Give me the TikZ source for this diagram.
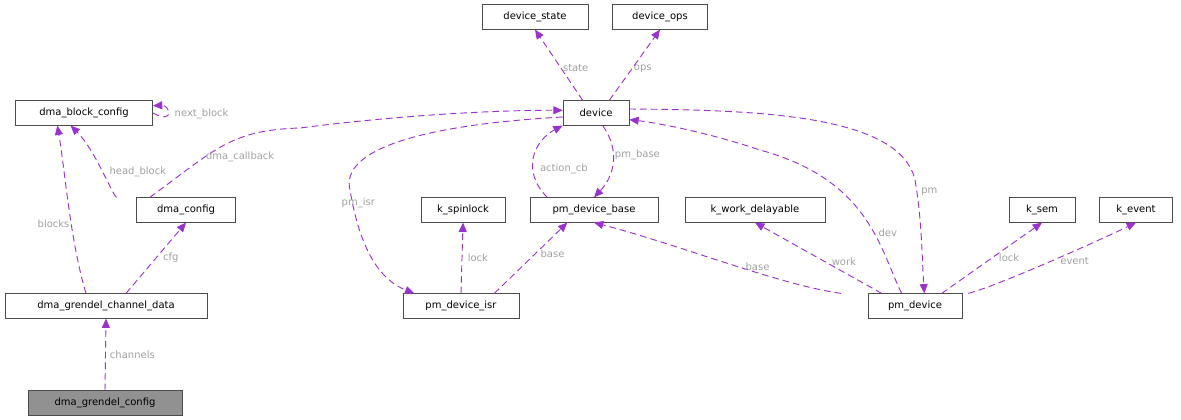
\documentclass[tikz,border=0pt]{standalone}
\usepackage{fontspec}
\setmainfont{DejaVu Sans}
\usetikzlibrary{arrows.meta}
\definecolor{edge}{RGB}{154,50,205}
\definecolor{lbl}{RGB}{160,160,160}
\begin{document}
\begin{tikzpicture}[x=0.75pt,y=-0.75pt,
  box/.style={draw=black!70,fill=white,minimum height=18.5pt,inner sep=0pt,font=\fontsize{7.5}{9}\selectfont,anchor=center},
  e/.style={draw=edge,dashed,dash pattern=on 5pt off 3pt,-{Triangle[length=7pt,width=6pt]},line width=0.7pt},
  l/.style={text=lbl,font=\fontsize{7.5}{9}\selectfont,inner sep=1pt}]
\useasboundingbox (0,0) rectangle (1181,420);
\node[box,minimum width=79.5pt] (ds) at (535,17) {device\_state};
\node[box,minimum width=71pt] (dops) at (660,17) {device\_ops};
\node[box,minimum width=103pt] (dbc) at (84,113) {dma\_block\_config};
\node[box,minimum width=49.5pt] (dev) at (596,113) {device};
\node[box,minimum width=74pt] (dc) at (186,210) {dma\_config};
\node[box,minimum width=63pt] (ks) at (463,210) {k\_spinlock};
\node[box,minimum width=96pt] (pdb) at (594,210) {pm\_device\_base};
\node[box,minimum width=105pt] (kw) at (755,210) {k\_work\_delayable};
\node[box,minimum width=49.5pt] (sem) at (1042,210) {k\_sem};
\node[box,minimum width=55pt] (kev) at (1136,210) {k\_event};
\node[box,minimum width=151.5pt] (gcd) at (106,306) {dma\_grendel\_channel\_data};
\node[box,minimum width=87pt] (isr) at (461,306) {pm\_device\_isr};
\node[box,minimum width=70.5pt] (pmd) at (915,306) {pm\_device};
\node[box,minimum width=115.5pt,fill=black!43] (gc) at (105,403) {dma\_grendel\_config};

\draw[e] (dev.north west)++(20,0) -- node[l,right,pos=0.45]{state} (ds.south);
\draw[e] (dev.north east)++(-20,0) -- node[l,right,pos=0.45]{ops} (dops.south);
\draw[e] (dbc.east) .. controls (175,125) and (170,105) .. node[l,right,pos=0.5,xshift=4pt]{next\_block} ([yshift=-4]dbc.north east);
\draw[e] ([xshift=-15]dc.north west) .. controls (110,190) and (95,150) .. node[l,right,pos=0.45,xshift=4pt]{head\_block} ([xshift=-10]dbc.south);
\draw[e] ([xshift=10]dc.north west) .. controls (215,150) and (230,130) .. node[l,pos=0.35,right]{dma\_callback} (300,128) .. controls (400,115) and (500,110) .. ([yshift=2]dev.west);
\draw[e] ([xshift=-15]gcd.north) .. controls (70,240) and (65,170) .. node[l,left,pos=0.4]{blocks} ([xshift=-20]dbc.south);
\draw[e] ([xshift=15]gcd.north) -- node[l,right,pos=0.5,xshift=4pt]{cfg} (dc.south);
\draw[e] (gc.north) -- node[l,right,xshift=2pt]{channels} (gcd.south);
\draw[e] ([xshift=-35]pdb.north) .. controls (520,170) and (535,140) .. node[l,right,pos=0.35,xshift=4pt]{action\_cb} ([xshift=-25]dev.south);
\draw[e] ([xshift=5]dev.south) .. controls (620,150) and (615,175) .. node[l,right,pos=0.4]{pm\_base} (pdb.north);
\draw[e] ([yshift=-3]dev.west) .. controls (420,125) and (340,150) .. (350,190) .. controls (360,250) and (380,280) .. node[l,pos=0.0,left,xshift=20pt,yshift=-10pt]{pm\_isr} ([xshift=-35]isr.north);
\draw[e] (isr.north) -- node[l,right,xshift=3pt]{lock} (ks.south);
\draw[e] ([xshift=25]isr.north) -- node[l,right,pos=0.5,xshift=6pt,yshift=3pt]{base} ([xshift=-20]pdb.south);
\draw[e] ([xshift=-20]pmd.north west) .. controls (780,285) and (680,245) .. node[l,above,pos=0.38]{base} (pdb.south);
\draw[e] ([xshift=-25]pmd.north) -- node[l,right,pos=0.45,xshift=4pt]{work} (kw.south);
\draw[e] ([xshift=20]pmd.north) -- node[l,right,pos=0.5,xshift=4pt]{lock} (sem.south);
\draw[e] ([xshift=40]pmd.north) .. controls (1000,285) and (1100,240) .. node[l,right,pos=0.5,xshift=6pt]{event} (kev.south);
\draw[e] ([xshift=-10]pmd.north) .. controls (880,250) and (870,180) .. node[l,right,pos=0.4,xshift=2pt]{dev} (760,150) .. controls (700,130) and (650,122) .. ([yshift=-5]dev.east);
\draw[e] ([yshift=3]dev.east) .. controls (760,110) and (900,115) .. (915,180) .. controls (922,220) and (922,260) .. node[l,right,pos=0.1,xshift=2pt]{pm} ([xshift=7]pmd.north);
\end{tikzpicture}
\end{document}
